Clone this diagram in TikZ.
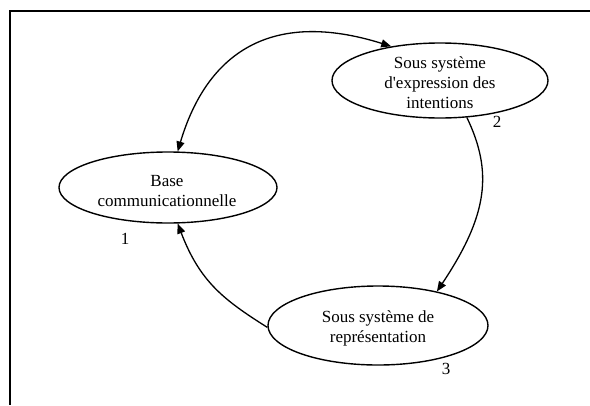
\documentclass[tikz,border=0pt]{standalone}
\usepackage{fontspec}
\setmainfont{Liberation Serif}
\usetikzlibrary{shapes.geometric,arrows.meta}

\tikzset{
  bubble/.style={draw, ellipse, line width=1.4pt, inner sep=0pt},
  bubbletext/.style={align=center, inner sep=0pt, font=\fontsize{17}{20}\selectfont},
  tag/.style={inner sep=0pt, font=\fontsize{17}{20}\selectfont},
  flow/.style={line width=1.3pt, -{Triangle[length=10pt,width=8pt]}},
  both/.style={line width=1.3pt, {Triangle[length=10pt,width=8pt]}-{Triangle[length=10pt,width=8pt]}},
}

\begin{document}
\begin{tikzpicture}[x=1pt, y=-1pt]
  \useasboundingbox (0,0) rectangle (590,405);

  % open frame: top and left rules
  \draw[line width=2.6pt] (590,11) -- (10,11) -- (10,405);

  % the three subsystems
  \node[bubble, minimum width=218pt, minimum height=71pt] (e1) at (168,187.5) {};
  \node[bubbletext] (t1) at (167,191) {Base\\communicationnelle};
  \node[tag] (n1) at (125,239) {1};

  \node[bubble, minimum width=216pt, minimum height=75pt] (e2) at (440,80.5) {};
  \node[bubbletext] (t2) at (440,82.5) {Sous système\\d\textquotesingle expression des\\intentions};
  \node[tag] (n2) at (497,122) {2};

  \node[bubble, minimum width=220pt, minimum height=79pt] (e3) at (378,325.5) {};
  \node[bubbletext] (t3) at (378,328.5) {Sous système de\\représentation};
  \node[tag] (n3) at (446,369) {3};

  % exchanges between the subsystems
  \draw[both] (e1.75) .. controls (206.8,53.6) and (270.2,8.5) .. (e2.145);
  \draw[flow] (e2.-54) .. controls (493,172) and (488,215) .. (e3.30);
  \draw[flow] (e3.181) .. controls (224,300) and (200,282) .. (e1.-75);
\end{tikzpicture}
\end{document}
